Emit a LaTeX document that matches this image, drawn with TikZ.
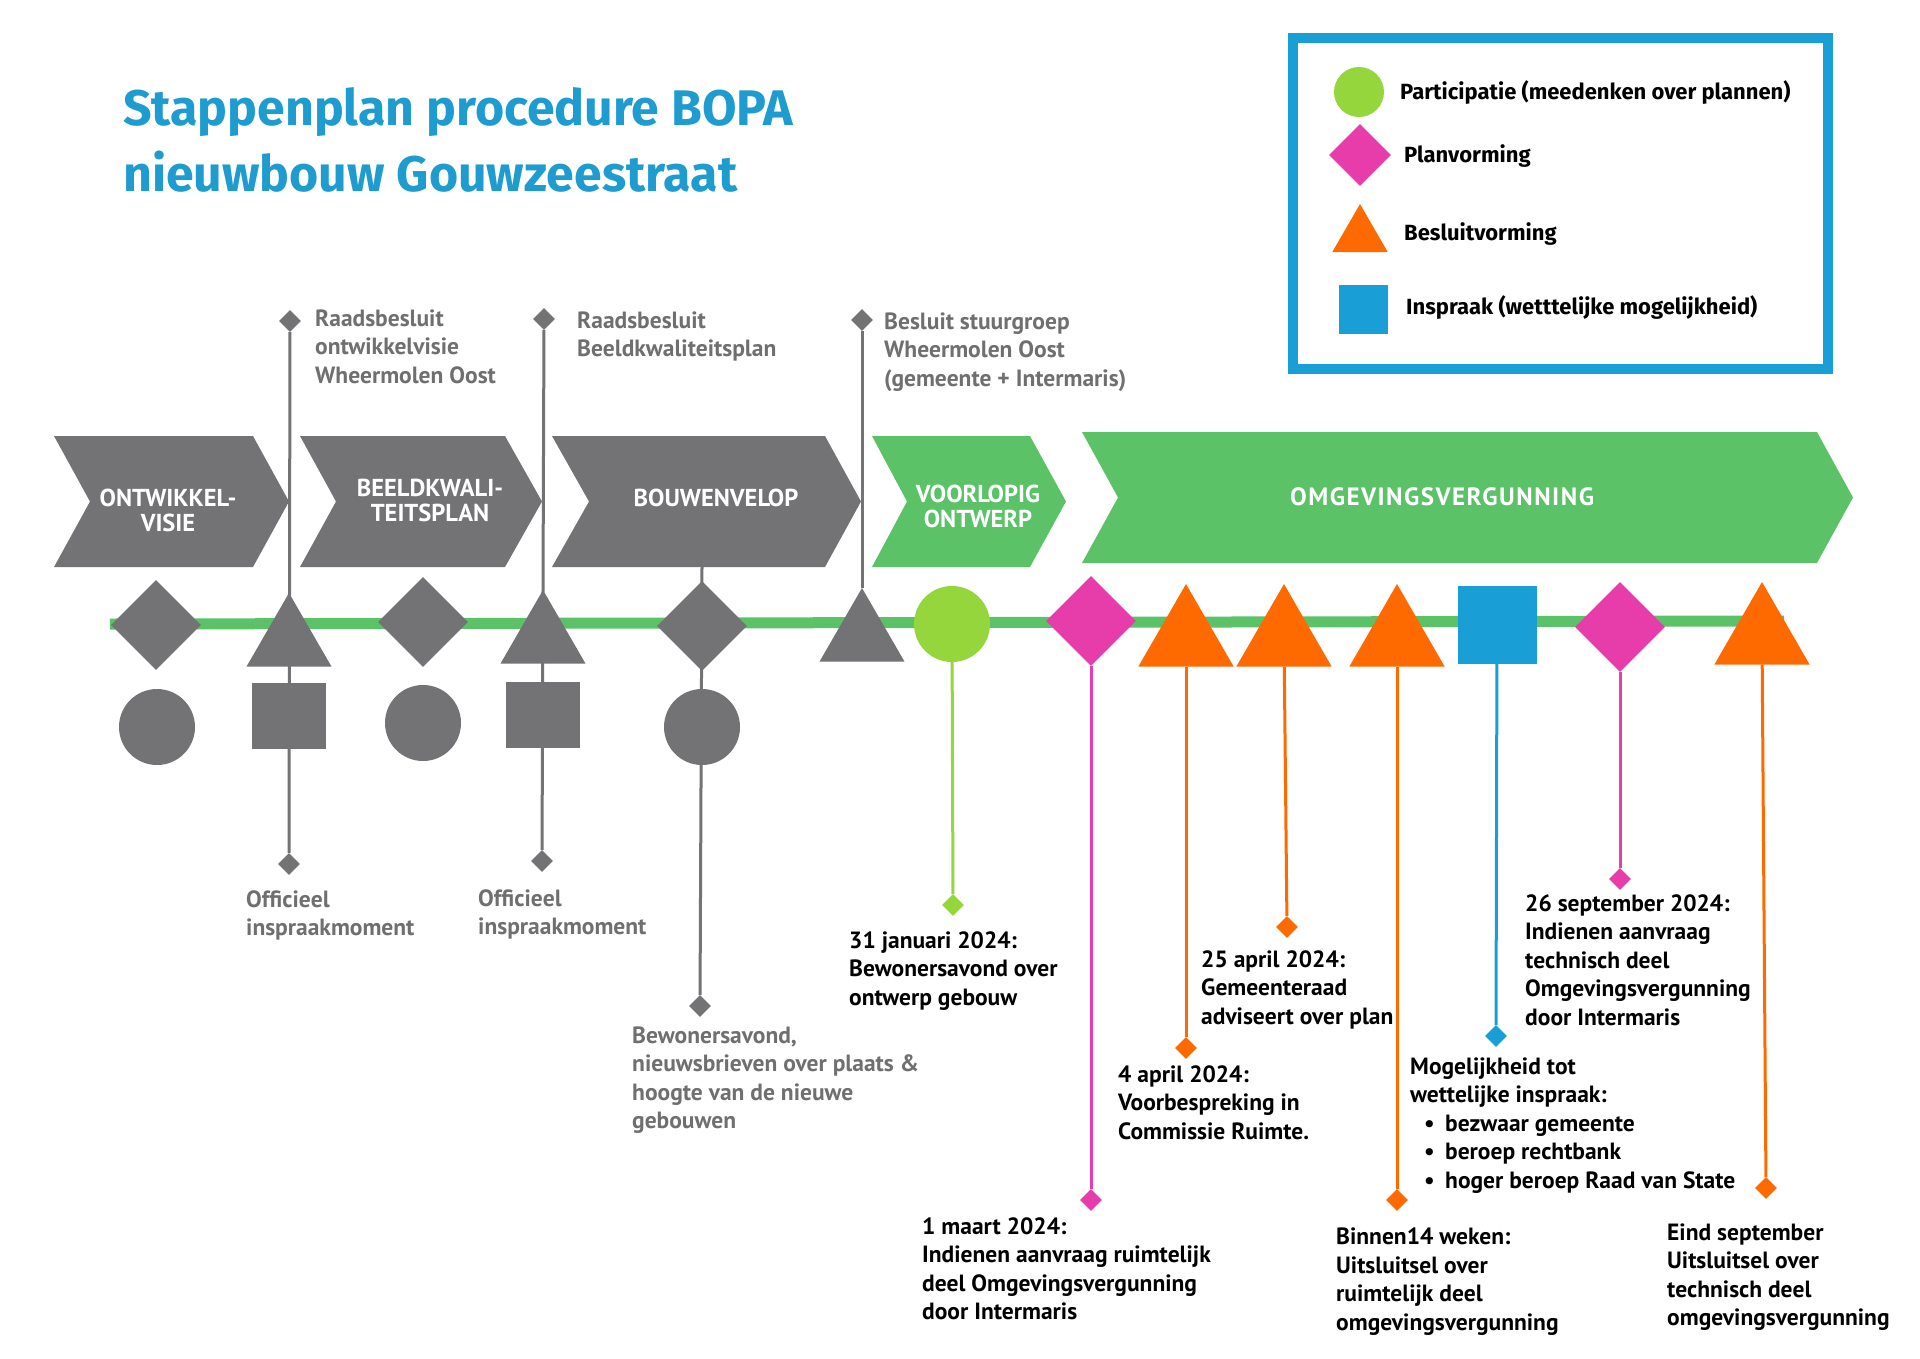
\documentclass[tikz,border=0pt]{standalone}
\usepackage{fontspec}
\setmainfont{PT Sans}
\newfontfamily\kopfont{Fira Sans}
\usepackage{tikz}
\usetikzlibrary{shapes.geometric}

\definecolor{stapgrijs}{HTML}{737275}
\definecolor{tekstgrijs}{HTML}{6F6F70}
\definecolor{stapgroen}{HTML}{5BC268}
\definecolor{lichtgroen}{HTML}{94D63C}
\definecolor{roze}{HTML}{E63DAA}
\definecolor{oranje}{HTML}{FF6A00}
\definecolor{blauw}{HTML}{1A9ED6}
\definecolor{titelblauw}{HTML}{1E9CD0}

\begin{document}
\begin{tikzpicture}[
  x=1pt,y=-1pt,
  ruit/.style={diamond,fill=#1,inner sep=0pt,minimum size=90pt},
  driehoek/.style={regular polygon,regular polygon sides=3,fill=#1,inner sep=0pt,minimum size=98pt},
  rondje/.style={circle,fill=#1,inner sep=0pt,minimum size=76pt},
  blok/.style={rectangle,fill=#1,inner sep=0pt,minimum width=74pt,minimum height=66pt},
  punt/.style={diamond,fill=#1,inner sep=0pt,minimum size=22pt},
  lijn/.style={draw=#1,line width=3pt},
  fase/.style={text=white,align=center,inner sep=0pt,font=\fontsize{24.5}{25}\selectfont\bfseries},
  grijs/.style={anchor=base west,align=left,inner sep=0pt,text=tekstgrijs,font=\fontsize{23.5}{28.5}\selectfont\bfseries},
  zwart/.style={grijs,text=black},
  legenda/.style={anchor=base west,inner sep=0pt,font=\kopfont\fontsize{22}{26}\selectfont\bfseries},
  titel/.style={anchor=base west,inner sep=0pt,text=titelblauw,font=\kopfont\fontsize{50}{66}\selectfont\bfseries}
]
\fill[white] (0,0) rectangle (1920,1358);
\useasboundingbox (0,0) rectangle (1920,1358);

% titel
\node[titel] (titel1) at (123,125) {Stappenplan procedure BOPA};
\node[titel] (titel2) at (123,191) {nieuwbouw Gouwzeestraat};

% legenda
\draw[blauw,line width=10pt] (1293,38) rectangle (1828,369);
\node[rondje=lichtgroen,minimum size=50pt] (lgpart) at (1359,92) {};
\node[ruit=roze,minimum size=62pt] (lgplan) at (1360,155) {};
\node[driehoek=oranje,minimum size=64pt] (lgbesl) at (1360,236) {};
\node[blok=blauw,minimum width=49pt,minimum height=49pt] (lginsp) at (1363,309) {};
\node[legenda] (lgt1) at (1400,99) {Participatie (meedenken over plannen)};
\node[legenda] (lgt2) at (1404,162) {Planvorming};
\node[legenda] (lgt3) at (1404,240) {Besluitvorming};
\node[legenda] (lgt4) at (1406,314) {Inspraak (wetttelijke mogelijkheid)};

% fasen
\fill[stapgrijs] (54,436) -- (253,436) -- (289,501.5) -- (253,567) -- (54,567) -- (90,501.5) -- cycle;
\fill[stapgrijs] (300,436) -- (505,436) -- (542,501.5) -- (505,567) -- (300,567) -- (336,501.5) -- cycle;
\fill[stapgrijs] (552,436) -- (825,436) -- (861,501.5) -- (825,567) -- (552,567) -- (589,501.5) -- cycle;
\fill[stapgroen] (872,436) -- (1030,436) -- (1066,501.5) -- (1030,567) -- (872,567) -- (907,501.5) -- cycle;
\fill[stapgroen] (1082,432) -- (1817,432) -- (1853,497.5) -- (1817,563) -- (1082,563) -- (1118,497.5) -- cycle;
\node[fase] (ontw) at (168,510) {ONTWIKKEL-\\VISIE};
\node[fase] (beeld) at (430,500) {BEELDKWALI-\\TEITSPLAN};
\node[fase] (bouw) at (716,498) {BOUWENVELOP};
\node[fase] (vo) at (978,506) {VOORLOPIG\\ONTWERP};
\node[fase,font=\fontsize{25}{25}\selectfont\bfseries\addfontfeatures{LetterSpace=6}] (omg) at (1442,497) {OMGEVINGSVERGUNNING};
\coordinate (bouwonder) at (702,567);

% tijdlijn
\coordinate (begin) at (110,624);
\coordinate (eind) at (1784,621);
\draw[stapgroen,line width=11pt] (begin) -- (eind);

% grijze stappen
\node[ruit=stapgrijs] (r1) at (156,625) {};
\node[driehoek=stapgrijs] (d1) at (289,642) {};
\node[ruit=stapgrijs] (r2) at (423,622) {};
\node[driehoek=stapgrijs] (d2) at (543,639) {};
\node[ruit=stapgrijs] (r3) at (702,626) {};
\node[driehoek=stapgrijs] (d3) at (862,637) {};
\node[rondje=stapgrijs] (c1) at (157,727) {};
\node[blok=stapgrijs] (s1) at (289,716) {};
\node[rondje=stapgrijs] (c2) at (423,723) {};
\node[blok=stapgrijs] (s2) at (543,715) {};
\node[rondje=stapgrijs] (c3) at (702,727) {};

\node[punt=stapgrijs] (top1) at (290,321) {};
\node[punt=stapgrijs] (top2) at (544,319) {};
\node[punt=stapgrijs] (top3) at (862,320) {};
\node[punt=stapgrijs] (ond1) at (289,864) {};
\node[punt=stapgrijs] (ond2) at (542,861) {};
\node[punt=stapgrijs] (ond3) at (700,1006) {};
\draw[lijn=stapgrijs] (top1) -- (ond1);
\draw[lijn=stapgrijs] (top2) -- (ond2);
\draw[lijn=stapgrijs] (top3) -- (d3);
\draw[lijn=stapgrijs] (bouwonder) -- (ond3);

% base = laatste regel
\node[grijs] (raad1) at (315,383) {Raadsbesluit\\ontwikkelvisie\\Wheermolen Oost};
\node[grijs] (raad2) at (577,356.5) {Raadsbesluit\\Beeldkwaliteitsplan};
\node[grijs] (stuur) at (884,386) {Besluit stuurgroep\\Wheermolen Oost\\(gemeente + Intermaris)};
\node[grijs] (insp1) at (246,935.5) {Officieel\\inspraakmoment};
\node[grijs] (insp2) at (478,934.5) {Officieel\\inspraakmoment};
\node[grijs] (bewon) at (632,1128.5) {Bewonersavond,\\nieuwsbrieven over plaats \&\\hoogte van de nieuwe\\gebouwen};

% gekleurde stappen
\node[rondje=lichtgroen] (part) at (952,624) {};
\node[ruit=roze] (plan1) at (1091,621) {};
\node[driehoek=oranje,minimum size=110pt] (besl1) at (1186,639) {};
\node[driehoek=oranje,minimum size=110pt] (besl2) at (1284,639) {};
\node[driehoek=oranje,minimum size=110pt] (besl3) at (1397,639) {};
\node[blok=blauw,minimum width=79pt,minimum height=78pt] (insp) at (1497,625) {};
\node[ruit=roze] (plan2) at (1620,627) {};
\node[driehoek=oranje,minimum size=110pt] (besl4) at (1762,637) {};

\node[punt=lichtgroen] (ppart) at (953,905) {};
\node[punt=roze] (pplan1) at (1091,1200) {};
\node[punt=oranje] (pbesl1) at (1186,1048) {};
\node[punt=oranje] (pbesl2) at (1287,927) {};
\node[punt=oranje] (pbesl3) at (1397,1200) {};
\node[punt=blauw] (pinsp) at (1496,1036) {};
\node[punt=roze] (pplan2) at (1620,879) {};
\node[punt=oranje] (pbesl4) at (1766,1188) {};
\draw[lijn=lichtgroen] (part) -- (ppart);
\draw[lijn=roze] (plan1) -- (pplan1);
\draw[lijn=oranje] (besl1) -- (pbesl1);
\draw[lijn=oranje] (besl2) -- (pbesl2);
\draw[lijn=oranje] (besl3) -- (pbesl3);
\draw[lijn=blauw] (insp) -- (pinsp);
\draw[lijn=roze] (plan2) -- (pplan2);
\draw[lijn=oranje] (besl4) -- (pbesl4);

\node[zwart] (jan) at (849,1005) {31 januari 2024:\\Bewonersavond over\\ontwerp gebouw};
\node[zwart] (mrt) at (922,1319.5) {1 maart 2024:\\Indienen aanvraag ruimtelijk\\deel Omgevingsvergunning\\door Intermaris};
\node[zwart] (apr4) at (1118,1139) {4 april 2024:\\Voorbespreking in\\Commissie Ruimte.};
\node[zwart] (apr25) at (1201,1024) {25 april 2024:\\Gemeenteraad\\adviseert over plan};
\node[zwart] (weken) at (1336,1330) {Binnen14 weken:\\Uitsluitsel over\\ruimtelijk deel\\omgevingsvergunning};
\node[zwart] (wet) at (1410,1188) {Mogelijkheid tot\\wettelijke inspraak:\\\hspace*{14pt}\makebox[21pt][l]{\textbullet}bezwaar gemeente\\\hspace*{14pt}\makebox[21pt][l]{\textbullet}beroep rechtbank\\\hspace*{14pt}\makebox[21pt][l]{\textbullet}hoger beroep Raad van State};
\node[zwart] (sep) at (1525,1025) {26 september 2024:\\Indienen aanvraag\\technisch deel\\Omgevingsvergunning\\door Intermaris};
\node[zwart] (eindsep) at (1667,1325.5) {Eind september\\Uitsluitsel over\\technisch deel\\omgevingsvergunning};
\end{tikzpicture}
\end{document}
